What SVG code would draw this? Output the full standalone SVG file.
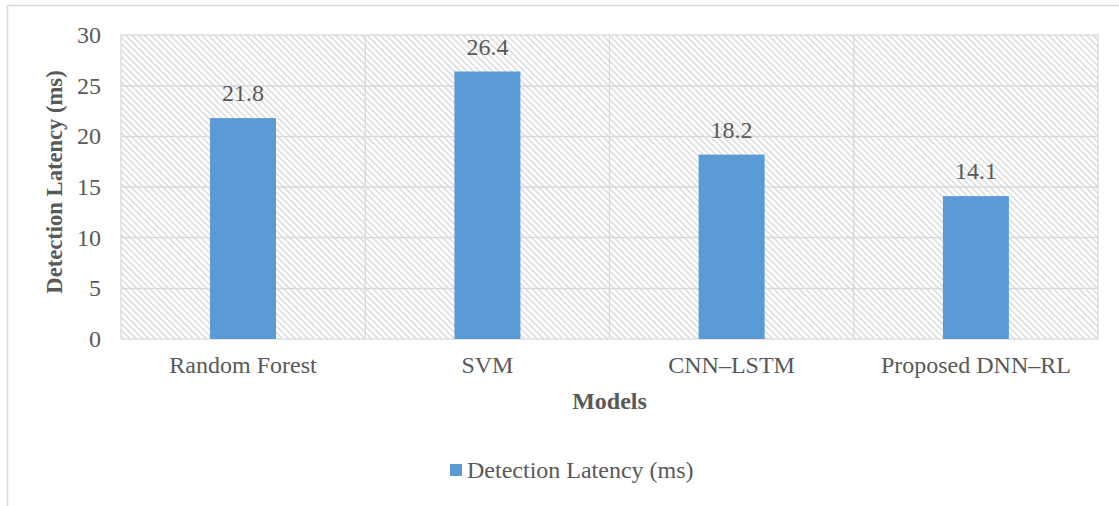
<svg xmlns="http://www.w3.org/2000/svg" width="1119" height="506" viewBox="0 0 1119 506">
<style>
.t{font-family:"Liberation Serif","Times New Roman",serif;fill:#595959;font-size:24px}
.b{font-weight:bold}
.grid{stroke:#d9d9d9;stroke-width:1.3;fill:none}
.bar{fill:#5b9bd5}
</style>
<defs>
<pattern id="hatch" patternUnits="userSpaceOnUse" width="4.5" height="4.5" patternTransform="rotate(-45)">
<rect width="4.5" height="4.5" fill="#ffffff"/>
<rect x="0" y="0" width="1.5" height="4.5" fill="#dadada"/>
</pattern>
</defs>
<rect width="1119" height="506" fill="#ffffff"/>
<rect x="7.5" y="5.5" width="1200" height="600" fill="none" stroke="#d9d9d9" stroke-width="1.5"/>
<g id="plot">
<rect x="121" y="35" width="977" height="304" fill="url(#hatch)"/>
<g class="grid">
<line x1="121" y1="86" x2="1098" y2="86"/>
<line x1="121" y1="136.5" x2="1098" y2="136.5"/>
<line x1="121" y1="187" x2="1098" y2="187"/>
<line x1="121" y1="237.5" x2="1098" y2="237.5"/>
<line x1="121" y1="288.5" x2="1098" y2="288.5"/>
<line x1="365.25" y1="35" x2="365.25" y2="339"/>
<line x1="609.5" y1="35" x2="609.5" y2="339"/>
<line x1="853.75" y1="35" x2="853.75" y2="339"/>
<rect x="121" y="35" width="977" height="304"/>
</g>
</g>
<g id="yaxis" class="t" text-anchor="end">
<text x="101" y="43">30</text>
<text x="101" y="94">25</text>
<text x="101" y="144">20</text>
<text x="101" y="195">15</text>
<text x="101" y="246">10</text>
<text x="101" y="296">5</text>
<text x="101" y="347">0</text>
</g>
<text id="ytitle" class="t b" style="font-size:22.6px" text-anchor="middle" transform="translate(62,182) rotate(-90)">Detection Latency (ms)</text>
<g id="bar-rf">
<rect class="bar" x="210" y="118.1" width="66" height="220.9"/>
<text class="t" x="243" y="101" text-anchor="middle">21.8</text>
<text class="t" x="243" y="373" text-anchor="middle">Random Forest</text>
</g>
<g id="bar-svm">
<rect class="bar" x="454.4" y="71.5" width="66" height="267.5"/>
<text class="t" x="487.4" y="54.5" text-anchor="middle">26.4</text>
<text class="t" x="487.4" y="373" text-anchor="middle">SVM</text>
</g>
<g id="bar-cnn">
<rect class="bar" x="698.6" y="154.6" width="66" height="184.4"/>
<text class="t" x="731.6" y="137.6" text-anchor="middle">18.2</text>
<text class="t" x="731.6" y="373" text-anchor="middle">CNN–LSTM</text>
</g>
<g id="bar-dnn">
<rect class="bar" x="942.9" y="196.1" width="66" height="142.9"/>
<text class="t" x="975.9" y="179.1" text-anchor="middle">14.1</text>
<text class="t" x="975.9" y="373" text-anchor="middle">Proposed DNN–RL</text>
</g>
<text id="xtitle" class="t b" x="609.5" y="409" text-anchor="middle">Models</text>
<g id="legend">
<rect class="bar" x="450" y="464" width="12" height="12"/>
<text class="t" x="467" y="478">Detection Latency (ms)</text>
</g>
</svg>
